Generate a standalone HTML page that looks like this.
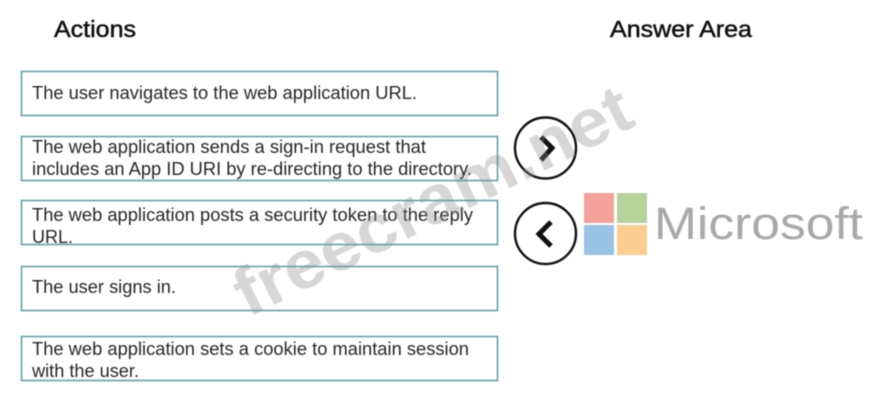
<!DOCTYPE html>
<html>
<head>
<meta charset="utf-8">
<style>
html,body{margin:0;padding:0;background:#fff;width:870px;height:406px;overflow:hidden}
svg{display:block;filter:blur(.45px)}
text{font-family:"Liberation Sans",sans-serif}
.t{font-size:18px;fill:#262626}
.h{font-size:23px;fill:#111;stroke:#111;stroke-width:.5px}
rect.b{fill:#fff;stroke:#5fa5a8;stroke-width:1.6}
</style>
</head>
<body>
<svg width="870" height="406" viewBox="0 0 870 406" xmlns="http://www.w3.org/2000/svg">
<rect width="870" height="406" fill="#fff"/>
<text class="h" x="54" y="37" textLength="82" lengthAdjust="spacingAndGlyphs">Actions</text>
<text class="h" x="610" y="37" textLength="142" lengthAdjust="spacingAndGlyphs">Answer Area</text>

<rect class="b" x="21.5" y="71.5" width="476" height="44"/>
<rect class="b" x="21.5" y="136.5" width="476" height="44"/>
<rect class="b" x="21.5" y="200.5" width="476" height="44"/>
<rect class="b" x="21.5" y="266.5" width="476" height="44"/>
<rect class="b" x="21.5" y="336.5" width="476" height="44"/>

<text class="t" x="32" y="99" textLength="385" lengthAdjust="spacingAndGlyphs">The user navigates to the web application URL.</text>
<text class="t" x="32" y="153" textLength="394" lengthAdjust="spacingAndGlyphs">The web application sends a sign-in request that</text>
<text class="t" x="32" y="175" textLength="440" lengthAdjust="spacingAndGlyphs">includes an App ID URI by re-directing to the directory.</text>
<text class="t" x="32" y="221" textLength="441" lengthAdjust="spacingAndGlyphs">The web application posts a security token to the reply</text>
<text class="t" x="32" y="243" textLength="41" lengthAdjust="spacingAndGlyphs">URL.</text>
<text class="t" x="32" y="293" textLength="144" lengthAdjust="spacingAndGlyphs">The user signs in.</text>
<text class="t" x="32" y="355" textLength="437" lengthAdjust="spacingAndGlyphs">The web application sets a cookie to maintain session</text>
<text class="t" x="32" y="377" textLength="107" lengthAdjust="spacingAndGlyphs">with the user.</text>

<circle cx="545.5" cy="148" r="30.5" fill="none" stroke="#111" stroke-width="2.4"/>
<polyline points="541,137 552,148 541,160" fill="none" stroke="#111" stroke-width="5"/>
<circle cx="545.5" cy="233.5" r="30.5" fill="none" stroke="#111" stroke-width="2.4"/>
<polyline points="551,222 539,234 551,246" fill="none" stroke="#111" stroke-width="5"/>

<rect x="584" y="193" width="30" height="30" fill="#f3a29b"/>
<rect x="617" y="193" width="30" height="30" fill="#b5d29a"/>
<rect x="584" y="225" width="30" height="30" fill="#9ac3e6"/>
<rect x="617" y="225" width="30" height="30" fill="#fdce92"/>
<text x="654" y="239" font-size="45" fill="#a9a9a9" textLength="209" lengthAdjust="spacingAndGlyphs">Microsoft</text>

<text x="0" y="0" transform="translate(248,318) rotate(-26.4)" font-size="68" font-weight="bold" fill="#8c8c8c" fill-opacity=".35" textLength="435" lengthAdjust="spacingAndGlyphs">freecram.net</text>
</svg>
</body>
</html>
